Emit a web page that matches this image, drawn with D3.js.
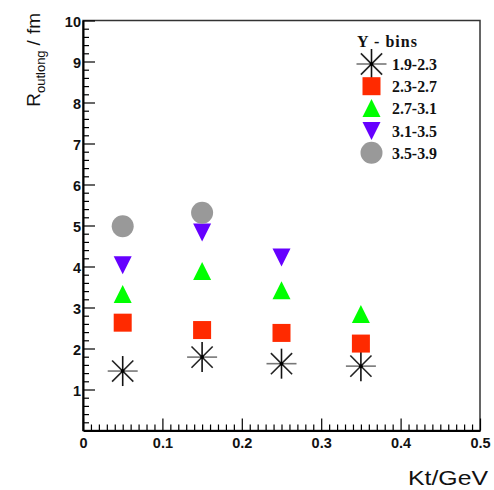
<!DOCTYPE html>
<html>
<head>
<meta charset="utf-8">
<script src="https://cdn.jsdelivr.net/npm/d3@7"></script>
<style>
  html, body { margin: 0; padding: 0; background: #fff; }
  svg { display: block; }
</style>
</head>
<body>
<svg id="chart" width="494" height="490"></svg>
<script>
// Kt bin centres (GeV)
const ktBins = [0.05, 0.15, 0.25, 0.35];

// R_outlong (fm) per rapidity bin
const yBinLabels = ["1.9-2.3", "2.3-2.7", "2.7-3.1", "3.1-3.5", "3.5-3.9"];
const rBin1 = [1.45, 1.79, 1.63, 1.57];
const rBin2 = [2.63, 2.45, 2.38, 2.12];
const rBin3 = [3.32, 3.88, 3.41, 2.83];
const rBin4 = [4.04, 4.84, 4.23];
const rBin5 = [4.98, 5.31];

const xTickValues = [0, 0.1, 0.2, 0.3, 0.4, 0.5];
const xTickLabels = ["0", "0.1", "0.2", "0.3", "0.4", "0.5"];
const yTickValues = [1, 2, 3, 4, 5, 6, 7, 8, 9, 10];
const yTickLabels = ["1", "2", "3", "4", "5", "6", "7", "8", "9", "10"];

const series = [
  { label: yBinLabels[0], values: rBin1, shape: "star",   color: "#000000" },
  { label: yBinLabels[1], values: rBin2, shape: "square", color: "#ff2a00" },
  { label: yBinLabels[2], values: rBin3, shape: "up",     color: "#00ff00" },
  { label: yBinLabels[3], values: rBin4, shape: "down",   color: "#6600ff" },
  { label: yBinLabels[4], values: rBin5, shape: "circle", color: "#999999" }
];

const svg = d3.select("#chart");
const plotLeft = 83, plotRight = 480, plotTop = 20.5, plotBottom = 430.5;

const x = d3.scaleLinear().domain([0, 0.5]).range([plotLeft, plotRight]);
const y = d3.scaleLinear().domain([0, 10]).range([plotBottom, plotTop]);

// frame
svg.append("rect")
  .attr("x", plotLeft).attr("y", plotTop)
  .attr("width", plotRight - plotLeft).attr("height", plotBottom - plotTop)
  .attr("fill", "none").attr("stroke", "#333").attr("stroke-width", 1.5);

// minor ticks
const xMinor = d3.range(0, 0.5001, 0.01).filter(v => Math.abs(v * 10 - Math.round(v * 10)) > 1e-6);
const yMinor = d3.range(0, 10.001, 0.2).filter(v => Math.abs(v - Math.round(v)) > 1e-6);

svg.append("g").attr("transform", `translate(0,${plotBottom})`)
  .call(d3.axisBottom(x).tickValues(xMinor).tickSizeInner(-6).tickSizeOuter(0).tickFormat(""))
  .call(g => g.select(".domain").remove())
  .call(g => g.selectAll("line").attr("stroke", "#000").attr("stroke-width", 1.2));

svg.append("g").attr("transform", `translate(${plotLeft},0)`)
  .call(d3.axisLeft(y).tickValues(yMinor).tickSizeInner(-6).tickSizeOuter(0).tickFormat(""))
  .call(g => g.select(".domain").remove())
  .call(g => g.selectAll("line").attr("stroke", "#000").attr("stroke-width", 1.2));

// major ticks + labels
const xAxis = svg.append("g").attr("transform", `translate(0,${plotBottom})`)
  .call(d3.axisBottom(x).tickValues(xTickValues).tickSizeInner(-12).tickSizeOuter(0)
    .tickPadding(7).tickFormat((d, i) => xTickLabels[i]));
xAxis.select(".domain").attr("stroke", "#000").attr("stroke-width", 2);
xAxis.selectAll("line").attr("stroke", "#000").attr("stroke-width", 1.2);
xAxis.selectAll("text")
  .attr("font-family", "Liberation Sans, Arial, sans-serif")
  .attr("font-weight", "bold").attr("font-size", 14.5).attr("fill", "#111");

const yAxis = svg.append("g").attr("transform", `translate(${plotLeft},0)`)
  .call(d3.axisLeft(y).tickValues(yTickValues).tickSizeInner(-12).tickSizeOuter(0)
    .tickPadding(2).tickFormat((d, i) => yTickLabels[i]));
yAxis.select(".domain").attr("stroke", "#000").attr("stroke-width", 2);
yAxis.selectAll("line").attr("stroke", "#000").attr("stroke-width", 1.2);
yAxis.selectAll("text")
  .attr("font-family", "Liberation Sans, Arial, sans-serif")
  .attr("font-weight", "bold").attr("font-size", 14.5).attr("fill", "#111")
  .attr("dy", "0.42em");

// axis titles
svg.append("text")
  .attr("x", 488).attr("y", 485)
  .attr("text-anchor", "end")
  .attr("font-family", "Liberation Sans, Arial, sans-serif")
  .attr("font-size", 21)
  .attr("textLength", 80)
  .attr("lengthAdjust", "spacingAndGlyphs")
  .attr("fill", "#111")
  .text("Kt/GeV");

const yTitle = svg.append("text")
  .attr("transform", "translate(40,13) rotate(-90)")
  .attr("text-anchor", "end")
  .attr("font-family", "Liberation Sans, Arial, sans-serif")
  .attr("fill", "#111");
yTitle.append("tspan").attr("font-size", 19).text("R");
yTitle.append("tspan").attr("font-size", 13).attr("dy", 5).text("outlong");
yTitle.append("tspan").attr("font-size", 19).attr("dy", -5).attr("dx", 5).text("/");
yTitle.append("tspan").attr("font-size", 19).attr("dx", 6).text("fm");

// marker drawing
function drawMarker(g, shape, color) {
  if (shape === "star") {
    const r = 15, d = r * Math.SQRT1_2;
    g.append("line").attr("x1", 0).attr("y1", -r).attr("x2", 0).attr("y2", r).attr("stroke", "#111");
    g.append("line").attr("x1", -d).attr("y1", -d).attr("x2", d).attr("y2", d).attr("stroke", "#222");
    g.append("line").attr("x1", -d).attr("y1", d).attr("x2", d).attr("y2", -d).attr("stroke", "#222");
    g.append("line").attr("x1", -r).attr("y1", 0).attr("x2", r).attr("y2", 0).attr("stroke", "#777");
    g.selectAll("line").attr("stroke-width", 1.6);
    g.append("circle").attr("r", 2).attr("fill", "#000");
  } else if (shape === "square") {
    g.append("rect").attr("x", -9).attr("y", -9).attr("width", 18).attr("height", 18).attr("fill", color);
  } else if (shape === "up") {
    g.append("path").attr("d", "M0,-9.5 L9,8.5 L-9,8.5 Z").attr("fill", color);
  } else if (shape === "down") {
    g.append("path").attr("d", "M0,9.5 L9,-8.5 L-9,-8.5 Z").attr("fill", color);
  } else if (shape === "circle") {
    g.append("circle").attr("r", 11).attr("fill", color);
  }
}

// data points
series.forEach(s => {
  svg.append("g").selectAll("g")
    .data(s.values.map((v, i) => ({ kt: ktBins[i], r: v })))
    .join("g")
    .attr("transform", d => `translate(${x(d.kt)},${y(d.r)})`)
    .each(function () { drawMarker(d3.select(this), s.shape, s.color); });
});

// legend
const legend = svg.append("g")
  .attr("font-family", "Liberation Serif, Times New Roman, serif")
  .attr("font-weight", "bold").attr("fill", "#111");
legend.append("text").attr("x", 357).attr("y", 47).attr("font-size", 16)
  .attr("textLength", 60).attr("lengthAdjust", "spacing").text("Y - bins");
series.forEach((s, i) => {
  const cy = 64 + i * 22.2;
  const g = legend.append("g").attr("transform", `translate(371.5,${cy})`);
  drawMarker(g, s.shape, s.color);
  legend.append("text")
    .attr("x", 392).attr("y", cy + 6)
    .attr("font-size", 16).attr("textLength", 45).attr("lengthAdjust", "spacingAndGlyphs")
    .text(s.label);
});
</script>
</body>
</html>
